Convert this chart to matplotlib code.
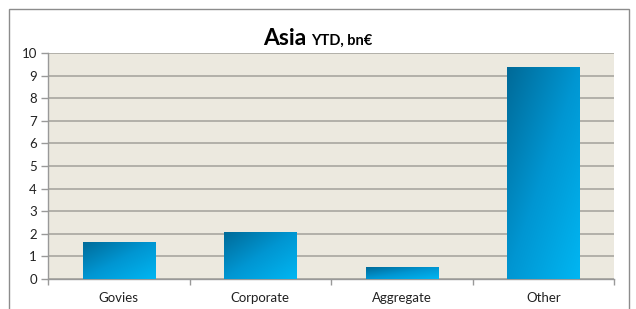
import matplotlib
matplotlib.use("Agg")
import matplotlib.pyplot as plt
import numpy as np
from matplotlib.patches import Rectangle
from matplotlib.colors import LinearSegmentedColormap

categories = ["Govies", "Corporate", "Aggregate", "Other"]
values = [1.64, 2.08, 0.53, 9.38]
yticks = list(range(0, 11))

plt.rcParams['font.family'] = ['Lato', 'DejaVu Sans']

fig = plt.figure(figsize=(6.36, 3.09), dpi=100)
fig.patch.set_facecolor("white")
ax = fig.add_axes([48/636, 1-279/309, (614-48)/636, (279-53)/309])
ax.set_facecolor("#ECE9DF")

x = np.arange(len(categories))
bars = ax.bar(x, values, width=0.51, color="none", edgecolor="none", zorder=3)

cmap = LinearSegmentedColormap.from_list("g", ["#006A98", "#0096D2", "#00B6F2"])
u = np.linspace(0, 1, 100)
U, V = np.meshgrid(u, u)
grad = (U + V) / 2.0  # 0 top-left, 1 bottom-right (origin upper)
for b in bars:
    x0, y0 = b.get_x(), b.get_y()
    w, h = b.get_width(), b.get_height()
    im = ax.imshow(grad, cmap=cmap, vmin=0, vmax=1, origin="upper",
                   extent=[x0, x0 + w, y0, y0 + h], aspect="auto", zorder=3,
                   interpolation="bilinear")
    im.set_clip_path(b)

ax.set_xlim(-0.5, len(categories) - 0.5)
ax.set_ylim(0, 10)
ax.set_yticks(yticks)
ax.set_yticklabels([str(t) for t in yticks], fontsize=9.5, color="#222222")
ax.set_xticks(x)
ax.set_xticklabels(categories, fontsize=9.5, color="#222222")
ax.tick_params(axis="x", length=0, pad=9)
ax.set_xticks(np.arange(-0.5, len(categories)), minor=True)
ax.tick_params(axis="x", which="minor", length=4, color="#999999", width=1)
ax.tick_params(axis="y", length=5, color="#999999", width=1, pad=3)

ax.grid(axis="y", color="#A8A6A0", linewidth=1.2, zorder=1)
ax.set_axisbelow(True)
for s in ["top", "right"]:
    ax.spines[s].set_visible(False)
for s in ["left", "bottom"]:
    ax.spines[s].set_color("#999999")
    ax.spines[s].set_linewidth(1)

# outer border
fig.patches.append(Rectangle((9/636, -0.05), (629-9)/636, 1.05 - 9/309 + 0.0,
                             transform=fig.transFigure, fill=False,
                             edgecolor="#8C8C8C", linewidth=1))

t1 = fig.text(263/636, 1-45/309, "Asia", fontsize=16.5, fontweight="bold",
              ha="left", va="baseline", color="black")
fig.canvas.draw()
bb = t1.get_window_extent()
fig.text((bb.x1 + 5)/636, 1-45/309, "YTD, bn€", fontsize=10.5, fontweight="bold",
         ha="left", va="baseline", color="black")

fig.savefig("out.png", dpi=100)
